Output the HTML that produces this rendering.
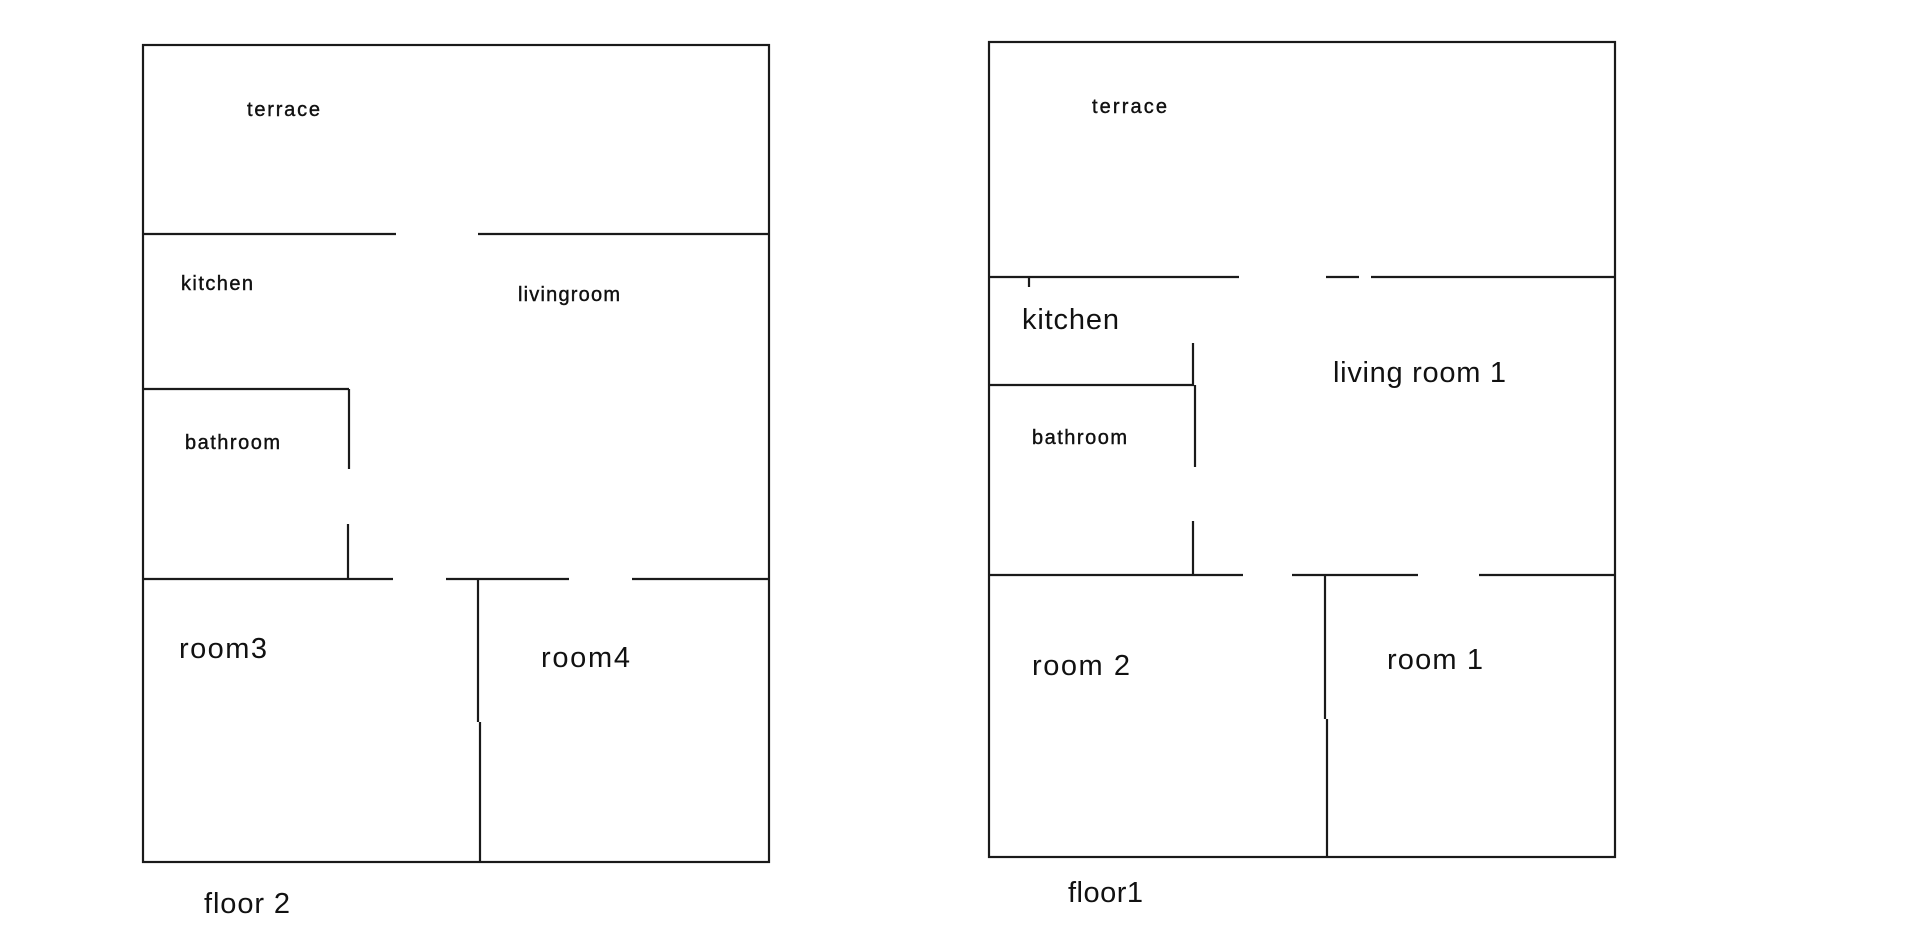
<!DOCTYPE html>
<html><head><meta charset="utf-8"><style>
html,body{margin:0;padding:0;background:#fff;}
svg{display:block}
text{font-family:"Liberation Sans",Arial,sans-serif;fill:#111;dominant-baseline:central}
.s{font-size:20px;stroke:#111;stroke-width:0.4}
.b{font-size:29px}
</style></head><body>
<svg width="1920" height="950" viewBox="0 0 1920 950" xmlns="http://www.w3.org/2000/svg">
<g stroke="#1a1a1a" stroke-width="2.2" fill="none">
<rect x="143" y="45" width="626" height="817"/>
<line x1="143" y1="234" x2="396" y2="234"/>
<line x1="478" y1="234" x2="769" y2="234"/>
<line x1="143" y1="389" x2="349" y2="389"/>
<line x1="349" y1="389" x2="349" y2="469"/>
<line x1="348" y1="524" x2="348" y2="579"/>
<line x1="143" y1="579" x2="393" y2="579"/>
<line x1="446" y1="579" x2="569" y2="579"/>
<line x1="632" y1="579" x2="769" y2="579"/>
<line x1="478" y1="579" x2="478" y2="722"/>
<line x1="480" y1="722" x2="480" y2="863"/>
<rect x="989" y="42" width="626" height="815"/>
<line x1="989" y1="277" x2="1239" y2="277"/>
<line x1="1326" y1="277" x2="1359" y2="277"/>
<line x1="1371" y1="277" x2="1615" y2="277"/>
<line x1="1029" y1="277" x2="1029" y2="287"/>
<line x1="989" y1="385" x2="1194" y2="385"/>
<line x1="1193" y1="343" x2="1193" y2="385"/>
<line x1="1195" y1="385" x2="1195" y2="467"/>
<line x1="1193" y1="521" x2="1193" y2="576"/>
<line x1="989" y1="575" x2="1243" y2="575"/>
<line x1="1292" y1="575" x2="1418" y2="575"/>
<line x1="1479" y1="575" x2="1615" y2="575"/>
<line x1="1325" y1="575" x2="1325" y2="719"/>
<line x1="1327" y1="719" x2="1327" y2="858"/>
</g>
<text class="s" x="247" y="110" textLength="73">terrace</text>
<text class="s" x="181" y="284" textLength="72">kitchen</text>
<text class="s" x="518" y="295" textLength="102">livingroom</text>
<text class="s" x="185" y="443" textLength="95">bathroom</text>
<text class="b" x="179" y="649" textLength="88">room3</text>
<text class="b" x="541" y="658" textLength="89">room4</text>
<text class="b" x="204" y="904" textLength="86">floor 2</text>
<text class="s" x="1092" y="107" textLength="75">terrace</text>
<text class="b" x="1022" y="320" textLength="97">kitchen</text>
<text class="b" x="1333" y="373" textLength="173">living room 1</text>
<text class="s" x="1032" y="438" textLength="95">bathroom</text>
<text class="b" x="1032" y="666" textLength="98">room 2</text>
<text class="b" x="1387" y="660" textLength="96">room 1</text>
<text class="b" x="1068" y="893" textLength="75">floor1</text>
</svg>
</body></html>
